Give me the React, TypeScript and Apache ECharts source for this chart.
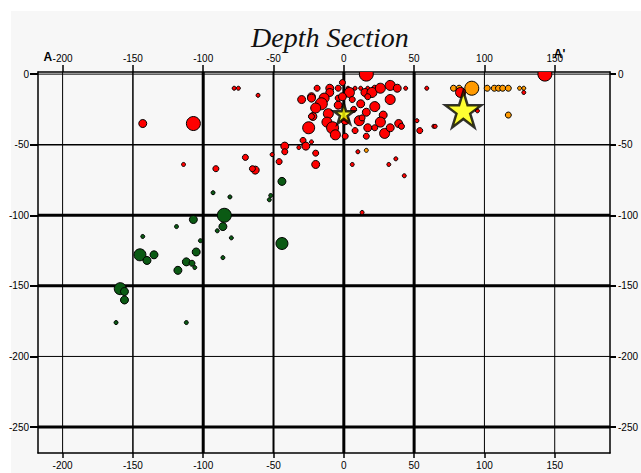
import React, { useEffect, useRef } from "react";
import * as echarts from "echarts";

// ---- data ----
const distanceTicks = [-200, -150, -100, -50, 0, 50, 100, 150];
const depthTicks = [0, -50, -100, -150, -200, -250];
const xRange = [-217.5, 189.3];
const depthRange = [-268.4, 1.5];
const titleText = "Depth Section";
const startLabel = "A";
const endLabel = "A'";

// [distance (km), depth (km), magnitude class]
const shallowEvents: number[][] = [
  [16, 0, 6], [143, 0, 6], [-107, -35, 6], [-143, -35, 3],
  [-75, -10, 1], [-78, -10, 1], [-61, -15, 1],
  [-30, -18, 3], [-23, -16, 3], [-22, -30, 3], [-25, -38, 5],
  [-42, -51, 3], [-42, -55, 2], [-29, -47, 2], [-27, -51, 3],
  [-32, -52, 1], [-23, -48, 1], [-20, -56, 2], [-20, -64, 3],
  [-51, -57, 1], [-46, -62, 2], [-70, -59, 2], [-63, -68, 3],
  [-65, -67, 2], [-91, -67, 2], [-114, -64, 1],
  [-19, -10, 2], [-10, -10, 3], [-10, -13, 3], [-4, -10, 2], [-1, -6, 2],
  [3, -10, 1], [8, -10, 1], [12, -10, 1], [17, -10, 1], [22, -10, 2],
  [4, -13, 4], [15, -13, 3], [20, -13, 4], [26, -10, 4], [33, -8, 4],
  [38, -10, 3], [44, -10, 1], [59, -10, 1],
  [-23, -17, 3], [-14, -17, 4], [-16, -21, 5], [12, -21, 3], [17, -16, 2],
  [33, -18, 4], [-4, -22, 3], [-11, -28, 4], [-12, -34, 4], [-8, -38, 5],
  [-23, -30, 2], [16, -27, 3], [22, -23, 4], [28, -29, 3], [26, -34, 4],
  [11, -33, 4], [17, -38, 3], [22, -38, 2], [29, -42, 4], [39, -35, 3],
  [8, -40, 2], [1, -44, 2], [16, -44, 2], [-6, -43, 4], [54, -40, 2],
  [64, -37, 1], [52, -33, 1], [10, -55, 1], [37, -60, 1], [6, -64, 1],
  [13, -98, 1], [43, -72, 1], [32, -64, 1], [-4, -17, 2], [6, -18, 2],
  [1, -33, 3], [-1, -16, 3], [7, -25, 2], [13, -31, 2], [33, -38, 3],
  [41, -37, 2], [-20, -24, 4], [65, -37, 1],
  [83, -13, 4], [95, -26, 1], [128, -13, 1],
];

const intermediateEvents: number[][] = [
  [78, -10, 2], [82, -10, 2], [91, -10, 6], [102, -10, 2], [107, -10, 2],
  [110, -10, 2], [113, -10, 2], [117, -10, 2], [125, -10, 1], [128, -10, 1],
  [117, -29, 2], [16, -54, 1],
];

const deepEvents: number[][] = [
  [-85, -100, 6], [-86, -108, 3], [-90, -111, 1], [-80, -116, 1],
  [-44, -120, 5], [-44, -76, 3], [-52, -86, 1], [-53, -89, 1],
  [-81, -87, 1], [-93, -84, 1], [-107, -103, 3], [-119, -108, 1],
  [-102, -118, 1], [-105, -126, 3], [-145, -128, 5], [-140, -132, 3],
  [-135, -128, 3], [-143, -115, 1], [-112, -133, 3], [-108, -134, 2],
  [-106, -137, 1], [-118, -139, 3], [-86, -130, 1], [-159, -152, 5],
  [-156, -154, 3], [-156, -160, 3], [-162, -176, 1], [-112, -176, 1],
];

// [distance, depth, class] : 2 = mainshock, 1 = secondary
const mainshocks: number[][] = [
  [85, -25, 2],
  [0, -28, 1],
];

// ---- styles ----
const vLineWidths: Record<string, number> = {
  "-200": 1, "-150": 1.5, "-100": 3, "-50": 2, "0": 3, "50": 3, "100": 1, "150": 1,
};
const hLineWidths: Record<string, number> = {
  "0": 1, "-50": 1.5, "-100": 3, "-150": 3, "-200": 1, "-250": 3,
};
const LABEL_FONT = "'Liberation Sans', Arial, sans-serif";
const STAR =
  "path://M50,0 L61.8,36.2 L100,36.2 L69.1,58.6 L80.9,95 L50,72.6 L19.1,95 L30.9,58.6 L0,36.2 L38.2,36.2 Z";

const circleSize = (mag: number) => 2 + 2 * mag;

export default function App() {
  const ref = useRef<HTMLDivElement>(null);

  useEffect(() => {
    if (!ref.current) return;
    const chart = echarts.init(ref.current, null, { renderer: "svg" });

    const labelStyle = {
      fontFamily: LABEL_FONT,
      fontSize: 10,
      color: "#000",
    };
    const xAxisBase = {
      type: "value" as const,
      min: xRange[0],
      max: xRange[1],
      splitLine: { show: false },
      axisLine: { show: true, onZero: false, lineStyle: { color: "#000", width: 1.5 } },
      axisTick: {
        show: true,
        customValues: distanceTicks,
        lineStyle: { color: "#000", width: 1.5 },
      },
      axisLabel: { ...labelStyle, customValues: distanceTicks },
    };
    const yAxisBase = {
      type: "value" as const,
      min: depthRange[0],
      max: depthRange[1],
      splitLine: { show: false },
      axisLine: { show: true, onZero: false, lineStyle: { color: "#000", width: 1.5 } },
      axisTick: {
        show: true,
        customValues: depthTicks,
        lineStyle: { color: "#000", width: 2 },
      },
      axisLabel: { ...labelStyle, customValues: depthTicks },
    };

    const circleSeries = (name: string, data: number[][], color: string) => ({
      name,
      type: "custom" as const,
      data,
      z: 3,
      clip: true,
      silent: true,
      renderItem: (params: any, api: any) => {
        const p = api.coord([api.value(0), api.value(1)]);
        const r = circleSize(api.value(2)) / 2;
        return {
          type: "circle",
          shape: { cx: p[0], cy: p[1], r },
          style: { fill: color, stroke: "#000", lineWidth: 1 },
        };
      },
    });

    // grid lines drawn through the axis scales
    const vGridData = distanceTicks.map((v) => [v, depthRange[0]]);
    const hGridData = depthTicks.map((v) => [xRange[0], v]);

    chart.setOption({
      animation: false,
      title: {
        text: titleText,
        left: 246,
        top: 18,
        textStyle: {
          fontFamily: "'Liberation Serif', 'Times New Roman', serif",
          fontStyle: "italic",
          fontWeight: "normal",
          fontSize: 28,
          color: "#111",
        },
      },
      grid: { left: 38, right: 27, top: 72, bottom: 20, containLabel: false },
      xAxis: [
        {
          ...xAxisBase,
          position: "bottom",
          axisTick: { ...xAxisBase.axisTick, length: 5 },
          axisLabel: { ...xAxisBase.axisLabel, margin: 7 },
        },
        {
          ...xAxisBase,
          position: "top",
          axisTick: { ...xAxisBase.axisTick, length: 7 },
          axisLabel: { ...xAxisBase.axisLabel, margin: 9 },
        },
      ],
      yAxis: [
        {
          ...yAxisBase,
          position: "left",
          axisTick: { ...yAxisBase.axisTick, length: 8 },
          axisLabel: { ...yAxisBase.axisLabel, margin: 9 },
        },
        {
          ...yAxisBase,
          position: "right",
          axisTick: { ...yAxisBase.axisTick, length: 6 },
          axisLabel: { ...yAxisBase.axisLabel, margin: 8 },
        },
      ],
      series: [
        {
          name: "vgrid",
          type: "custom",
          data: vGridData,
          z: 1,
          silent: true,
          clip: false,
          renderItem: (params: any, api: any) => {
            const x = api.value(0);
            const a = api.coord([x, depthRange[0]]);
            const b = api.coord([x, depthRange[1]]);
            return {
              type: "line",
              shape: { x1: a[0], y1: a[1], x2: b[0], y2: b[1] },
              style: { stroke: "#000", lineWidth: vLineWidths[String(x)] },
            };
          },
        },
        {
          name: "hgrid",
          type: "custom",
          data: hGridData,
          z: 1,
          silent: true,
          clip: false,
          renderItem: (params: any, api: any) => {
            const y = api.value(1);
            const a = api.coord([xRange[0], y]);
            const b = api.coord([xRange[1], y]);
            return {
              type: "line",
              shape: { x1: a[0], y1: a[1], x2: b[0], y2: b[1] },
              style: { stroke: "#000", lineWidth: hLineWidths[String(y)] },
            };
          },
        },
        circleSeries("deep", deepEvents, "#0b5a14"),
        circleSeries("intermediate", intermediateEvents, "#ff9a00"),
        circleSeries("shallow", shallowEvents, "#ff0000"),
        {
          name: "mainshock",
          type: "scatter",
          data: mainshocks,
          z: 4,
          symbol: STAR,
          symbolSize: (v: number[]) => (v[2] === 2 ? 36 : 20),
          itemStyle: { color: "#ffff00", borderColor: "#000", borderWidth: 2.5 },
          emphasis: { disabled: true },
        },
      ],
    });

    const xa = chart.convertToPixel({ xAxisIndex: 1 }, distanceTicks[0]) as number;
    const xb = chart.convertToPixel(
      { xAxisIndex: 1 },
      distanceTicks[distanceTicks.length - 1]
    ) as number;
    chart.setOption({
      graphic: [
        {
          type: "text",
          x: xa - 19,
          y: 51,
          z: 10,
          style: {
            text: startLabel,
            fontFamily: LABEL_FONT,
            fontWeight: "bold",
            fontSize: 12,
            fill: "#000",
          },
        },
        {
          type: "text",
          x: xb - 1,
          y: 48,
          z: 10,
          style: {
            text: endLabel,
            fontFamily: LABEL_FONT,
            fontWeight: "bold",
            fontSize: 12,
            fill: "#000",
          },
        },
      ],
    });

    return () => chart.dispose();
  }, []);

  return (
    <div
      style={{
        position: "absolute",
        left: 0,
        top: 0,
        width: 641,
        height: 473,
        background: "#fff",
        overflow: "hidden",
      }}
    >
      <div
        style={{
          position: "absolute",
          left: 11,
          top: 11,
          width: 630,
          height: 462,
          background: "#f7f7f7",
        }}
      />
      <div
        ref={ref}
        style={{ position: "absolute", left: 0, top: 0, width: 641, height: 473 }}
      />
    </div>
  );
}
